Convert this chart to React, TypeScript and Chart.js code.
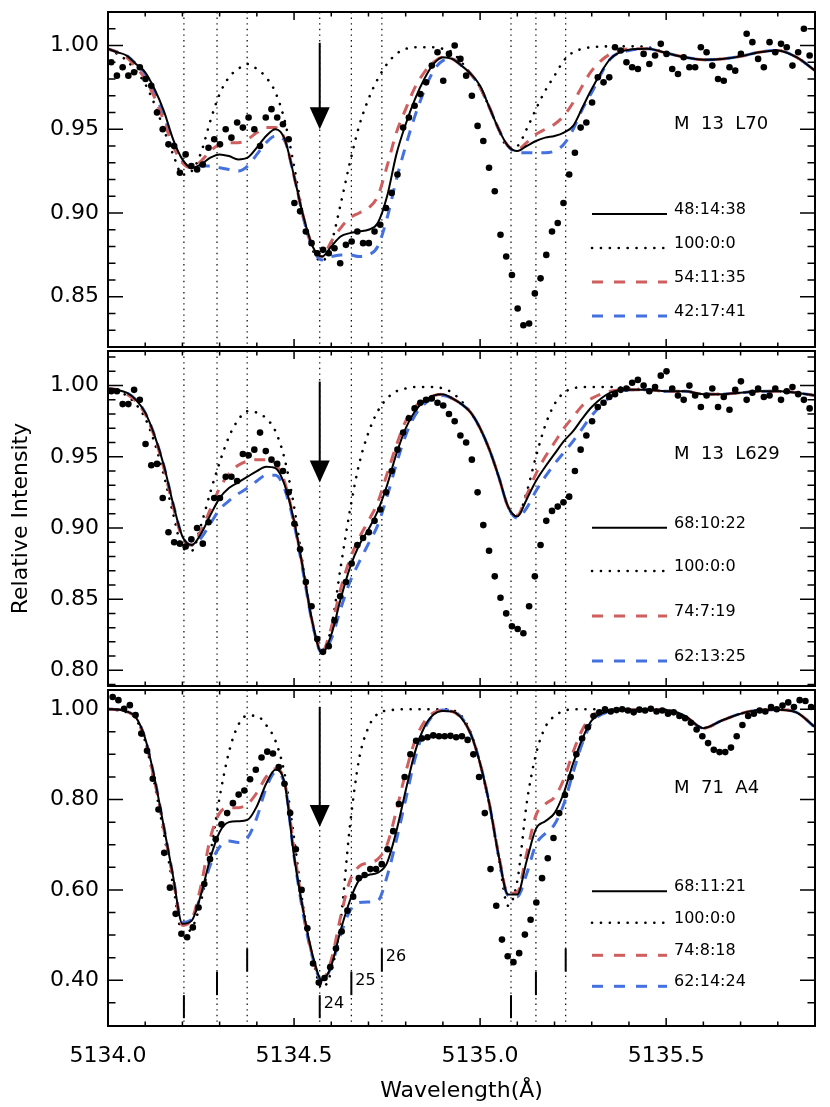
import React, { useEffect, useRef } from 'react';
import { Chart, registerables } from 'chart.js';

Chart.register(...registerables);

// ---------- axes ----------
const WL_MIN = 5134.0;
const WL_MAX = 5135.9;
const X_LABEL_TICKS = [5134.0, 5134.5, 5135.0, 5135.5];

// MgH line positions (vertical dotted lines), Å
const LINE_WL = [5134.204, 5134.293, 5134.374, 5134.569, 5134.654, 5134.736, 5135.083, 5135.150, 5135.230];
const ISOTOPES = ['24', '25', '26'];
const MARKER_LOW = [0.316, 0.367, 0.419];
const MARKER_HIGH = [0.367, 0.419, 0.47];

// ---------- model sampling grid ----------
const MODEL_WL = [
  5134.000, 5134.025, 5134.050, 5134.075, 5134.100, 5134.125, 5134.150, 5134.175, 5134.200, 5134.225,
  5134.250, 5134.275, 5134.300, 5134.325, 5134.350, 5134.375, 5134.400, 5134.425, 5134.450, 5134.475,
  5134.500, 5134.525, 5134.550, 5134.575, 5134.600, 5134.625, 5134.650, 5134.675, 5134.700, 5134.725,
  5134.750, 5134.775, 5134.800, 5134.825, 5134.850, 5134.875, 5134.900, 5134.925, 5134.950, 5134.975,
  5135.000, 5135.025, 5135.050, 5135.075, 5135.100, 5135.125, 5135.150, 5135.175, 5135.200, 5135.225,
  5135.250, 5135.275, 5135.300, 5135.350, 5135.400, 5135.450, 5135.500, 5135.550, 5135.600, 5135.650,
  5135.700, 5135.750, 5135.800, 5135.850, 5135.900,
];

// ---------- Panel 1: M 13 L70 ----------
const P1_SOLID = [0.998, 0.996, 0.994, 0.989, 0.984, 0.974, 0.961, 0.944, 0.932, 0.927, 0.929, 0.933, 0.935, 0.934, 0.932, 0.933, 0.939, 0.946, 0.950, 0.944, 0.922, 0.898, 0.880, 0.874, 0.880, 0.886, 0.888, 0.889, 0.890, 0.894, 0.910, 0.935, 0.953, 0.968, 0.980, 0.989, 0.993, 0.992, 0.988, 0.983, 0.976, 0.963, 0.950, 0.940, 0.937, 0.940, 0.943, 0.945, 0.946, 0.948, 0.952, 0.963, 0.974, 0.992, 0.9975, 0.998, 0.9955, 0.993, 0.9915, 0.992, 0.9935, 0.996, 0.997, 0.993, 0.985];
const P1_DOTTED = [0.997, 0.995, 0.991, 0.985, 0.977, 0.965, 0.950, 0.935, 0.923, 0.925, 0.936, 0.955, 0.971, 0.981, 0.986, 0.989, 0.986, 0.981, 0.972, 0.955, 0.928, 0.898, 0.878, 0.871, 0.882, 0.905, 0.930, 0.952, 0.968, 0.980, 0.989, 0.995, 0.998, 0.999, 0.999, 0.999, 0.998, 0.996, 0.990, 0.983, 0.975, 0.963, 0.950, 0.939, 0.940, 0.950, 0.962, 0.973, 0.982, 0.991, 0.996, 0.998, 0.999, 0.9995, 0.9995, 0.999, 0.9955, 0.993, 0.9915, 0.992, 0.9935, 0.996, 0.997, 0.993, 0.985];
const P1_RED = [0.998, 0.996, 0.993, 0.987, 0.980, 0.969, 0.955, 0.940, 0.930, 0.927, 0.931, 0.937, 0.941, 0.942, 0.942, 0.944, 0.948, 0.951, 0.951, 0.944, 0.922, 0.898, 0.880, 0.874, 0.883, 0.891, 0.897, 0.900, 0.903, 0.910, 0.928, 0.948, 0.962, 0.975, 0.984, 0.990, 0.993, 0.992, 0.988, 0.983, 0.975, 0.963, 0.950, 0.940, 0.938, 0.942, 0.947, 0.950, 0.953, 0.958, 0.966, 0.976, 0.985, 0.995, 0.998, 0.998, 0.9955, 0.993, 0.9915, 0.992, 0.9935, 0.996, 0.997, 0.993, 0.985];
const P1_BLUE = [0.998, 0.996, 0.994, 0.989, 0.983, 0.972, 0.958, 0.942, 0.931, 0.927, 0.928, 0.928, 0.927, 0.926, 0.925, 0.928, 0.935, 0.942, 0.946, 0.943, 0.922, 0.897, 0.879, 0.872, 0.874, 0.875, 0.875, 0.874, 0.875, 0.880, 0.897, 0.920, 0.940, 0.958, 0.973, 0.985, 0.991, 0.992, 0.988, 0.983, 0.975, 0.963, 0.950, 0.940, 0.936, 0.936, 0.936, 0.936, 0.937, 0.941, 0.950, 0.962, 0.972, 0.992, 0.997, 0.998, 0.9955, 0.993, 0.9915, 0.992, 0.9935, 0.996, 0.997, 0.993, 0.985];
const P1_OBS = [
  0.990, 0.982, 0.987, 0.982, 0.984, 0.987, 0.980, 0.976, 0.960, 0.950,
  0.941, 0.940, 0.924, 0.935, 0.928, 0.926, 0.929, 0.939, 0.944, 0.941,
  0.950, 0.945, 0.954, 0.951, 0.957, 0.950, 0.940, 0.957, 0.962, 0.957,
  0.953, 0.944, 0.906, 0.901, 0.889, 0.882, 0.876, 0.878, 0.876, 0.879,
  0.870, 0.881, 0.883, 0.889, 0.882, 0.882, 0.889, 0.893, 0.903, 0.912,
  0.923, 0.951, 0.957, 0.964, 0.971, 0.978, 0.988, 0.996, 0.979, 0.995,
  1.000, 0.992, 0.982, 0.970, 0.952, 0.943, 0.927, 0.913, 0.887, 0.874,
  0.863, 0.843, 0.833, 0.834, 0.852, 0.861, 0.875, 0.889, 0.894, 0.906,
  0.923, 0.936, 0.951, 0.954, 0.966, 0.981, 0.978, 0.981, 0.999, 0.997,
  0.990, 0.987, 0.986, 0.995, 0.989, 0.994, 1.001, 0.995, 0.986, 0.983,
  0.993, 0.987, 0.987, 0.999, 0.996, 0.988, 0.980, 0.979, 0.987, 0.985,
  0.995, 1.007, 1.002, 0.992, 0.987, 1.002, 0.996, 1.001, 0.999, 0.988,
  0.996, 1.010, 0.994,
];

// ---------- Panel 2: M 13 L629 ----------
const P2_SOLID = [0.998, 0.997, 0.995, 0.990, 0.981, 0.965, 0.944, 0.917, 0.894, 0.888, 0.896, 0.909, 0.921, 0.928, 0.932, 0.936, 0.940, 0.943, 0.942, 0.930, 0.905, 0.870, 0.833, 0.812, 0.825, 0.850, 0.872, 0.888, 0.899, 0.912, 0.930, 0.952, 0.970, 0.982, 0.989, 0.993, 0.994, 0.991, 0.987, 0.981, 0.970, 0.955, 0.936, 0.915, 0.908, 0.920, 0.933, 0.943, 0.952, 0.961, 0.968, 0.977, 0.985, 0.995, 0.997, 0.997, 0.996, 0.996, 0.994, 0.994, 0.995, 0.996, 0.996, 0.995, 0.993];
const P2_DOTTED = [0.998, 0.996, 0.993, 0.987, 0.977, 0.960, 0.937, 0.910, 0.886, 0.884, 0.902, 0.925, 0.946, 0.964, 0.976, 0.982, 0.981, 0.977, 0.968, 0.948, 0.915, 0.872, 0.832, 0.812, 0.830, 0.872, 0.912, 0.945, 0.967, 0.982, 0.991, 0.996, 0.998, 0.999, 0.999, 0.999, 0.998, 0.995, 0.989, 0.981, 0.970, 0.955, 0.936, 0.915, 0.908, 0.925, 0.950, 0.972, 0.987, 0.995, 0.998, 0.999, 0.999, 0.999, 0.998, 0.997, 0.996, 0.996, 0.994, 0.994, 0.995, 0.996, 0.996, 0.995, 0.993];
const P2_RED = [0.998, 0.997, 0.994, 0.989, 0.980, 0.964, 0.942, 0.915, 0.893, 0.888, 0.898, 0.913, 0.928, 0.938, 0.944, 0.947, 0.948, 0.948, 0.945, 0.932, 0.905, 0.870, 0.833, 0.813, 0.830, 0.857, 0.878, 0.893, 0.905, 0.918, 0.938, 0.958, 0.975, 0.985, 0.990, 0.993, 0.994, 0.991, 0.987, 0.981, 0.970, 0.955, 0.936, 0.915, 0.909, 0.923, 0.938, 0.950, 0.960, 0.970, 0.978, 0.986, 0.991, 0.996, 0.997, 0.997, 0.996, 0.996, 0.994, 0.994, 0.995, 0.996, 0.996, 0.995, 0.993];
const P2_BLUE = [0.998, 0.997, 0.995, 0.990, 0.981, 0.965, 0.944, 0.917, 0.894, 0.888, 0.893, 0.903, 0.913, 0.919, 0.924, 0.928, 0.933, 0.937, 0.937, 0.927, 0.903, 0.868, 0.832, 0.812, 0.822, 0.843, 0.862, 0.876, 0.889, 0.902, 0.922, 0.945, 0.965, 0.979, 0.987, 0.991, 0.993, 0.991, 0.987, 0.981, 0.970, 0.955, 0.936, 0.915, 0.907, 0.914, 0.926, 0.936, 0.945, 0.953, 0.961, 0.970, 0.979, 0.992, 0.997, 0.997, 0.996, 0.996, 0.994, 0.994, 0.995, 0.996, 0.996, 0.995, 0.993];
const P2_OBS = [
  0.996, 0.996, 0.987, 0.987, 0.997, 0.990, 0.959, 0.944, 0.945, 0.921,
  0.897, 0.890, 0.889, 0.887, 0.892, 0.900, 0.889, 0.904, 0.921, 0.921,
  0.936, 0.936, 0.933, 0.952, 0.951, 0.955, 0.967, 0.954, 0.948, 0.945,
  0.940, 0.925, 0.903, 0.885, 0.862, 0.845, 0.822, 0.813, 0.817, 0.835,
  0.852, 0.862, 0.875, 0.888, 0.893, 0.897, 0.905, 0.913, 0.925, 0.940,
  0.955, 0.967, 0.977, 0.984, 0.988, 0.990, 0.991, 0.988, 0.986, 0.980,
  0.975, 0.965, 0.960, 0.948, 0.925, 0.902, 0.884, 0.866, 0.851, 0.840,
  0.831, 0.829, 0.826, 0.845, 0.866, 0.888, 0.905, 0.912, 0.915, 0.918,
  0.922, 0.940, 0.955, 0.965, 0.975, 0.985, 0.988, 0.992, 0.994, 0.997,
  0.998, 1.002, 1.004, 1.000, 0.996, 0.999, 1.007, 1.010, 0.998, 0.993,
  0.990, 1.000, 0.993, 0.985, 0.993, 0.998, 0.985, 0.992, 0.983, 0.997,
  1.003, 0.990, 0.995, 0.998, 0.992, 0.993, 0.998, 0.990, 0.996, 0.999,
  0.994, 0.990, 0.984,
];

// ---------- Panel 3: M 71 A4 ----------
const P3_SOLID = [1.000, 0.999, 0.995, 0.982, 0.935, 0.848, 0.740, 0.630, 0.525, 0.532, 0.590, 0.670, 0.728, 0.750, 0.752, 0.755, 0.785, 0.835, 0.866, 0.835, 0.675, 0.553, 0.455, 0.400, 0.432, 0.510, 0.576, 0.622, 0.633, 0.638, 0.660, 0.730, 0.820, 0.905, 0.960, 0.988, 0.996, 0.995, 0.980, 0.945, 0.880, 0.790, 0.675, 0.590, 0.590, 0.664, 0.735, 0.752, 0.770, 0.815, 0.880, 0.935, 0.975, 0.996, 0.999, 0.999, 0.998, 0.985, 0.958, 0.975, 0.990, 0.998, 0.999, 0.993, 0.960];
const P3_DOTTED = [1.000, 0.998, 0.993, 0.978, 0.928, 0.835, 0.725, 0.610, 0.505, 0.515, 0.575, 0.680, 0.805, 0.905, 0.965, 0.986, 0.985, 0.965, 0.930, 0.855, 0.715, 0.560, 0.450, 0.383, 0.420, 0.530, 0.740, 0.890, 0.960, 0.990, 0.997, 0.999, 1.000, 1.000, 1.000, 1.000, 1.000, 0.998, 0.985, 0.948, 0.880, 0.785, 0.670, 0.565, 0.620, 0.790, 0.900, 0.960, 0.985, 0.996, 1.000, 1.000, 1.000, 1.000, 0.999, 0.999, 0.998, 0.985, 0.958, 0.975, 0.990, 0.998, 0.999, 0.993, 0.960];
const P3_RED = [1.000, 0.999, 0.995, 0.980, 0.930, 0.842, 0.735, 0.625, 0.522, 0.535, 0.610, 0.715, 0.770, 0.782, 0.782, 0.790, 0.815, 0.850, 0.868, 0.838, 0.690, 0.553, 0.452, 0.400, 0.445, 0.540, 0.620, 0.652, 0.660, 0.668, 0.700, 0.775, 0.860, 0.930, 0.972, 0.992, 0.997, 0.995, 0.980, 0.945, 0.880, 0.790, 0.678, 0.592, 0.595, 0.680, 0.765, 0.790, 0.805, 0.845, 0.905, 0.955, 0.985, 0.997, 0.999, 0.999, 0.998, 0.985, 0.958, 0.975, 0.990, 0.998, 0.999, 0.993, 0.960];
const P3_BLUE = [1.000, 0.999, 0.995, 0.982, 0.935, 0.848, 0.740, 0.630, 0.528, 0.535, 0.590, 0.655, 0.695, 0.708, 0.705, 0.715, 0.760, 0.825, 0.860, 0.833, 0.675, 0.545, 0.450, 0.398, 0.430, 0.500, 0.553, 0.572, 0.573, 0.576, 0.630, 0.710, 0.800, 0.890, 0.955, 0.988, 0.998, 0.996, 0.982, 0.945, 0.880, 0.790, 0.675, 0.588, 0.585, 0.635, 0.700, 0.725, 0.745, 0.790, 0.860, 0.925, 0.970, 0.995, 0.999, 0.999, 0.998, 0.985, 0.958, 0.975, 0.990, 0.998, 0.999, 0.993, 0.960];
const P3_OBS = [
  1.027, 1.020, 1.001, 1.009, 0.987, 0.946, 0.908, 0.846, 0.778, 0.682,
  0.605, 0.547, 0.503, 0.495, 0.517, 0.561, 0.613, 0.668, 0.712, 0.745,
  0.770, 0.792, 0.811, 0.820, 0.845, 0.866, 0.893, 0.906, 0.902, 0.872,
  0.835, 0.770, 0.690, 0.600, 0.515, 0.437, 0.395, 0.405, 0.429, 0.470,
  0.508, 0.554, 0.585, 0.626, 0.633, 0.646, 0.646, 0.657, 0.690, 0.730,
  0.790, 0.850, 0.900, 0.930, 0.935, 0.938, 0.942, 0.940, 0.940, 0.941,
  0.938, 0.940, 0.932, 0.900, 0.850, 0.770, 0.646, 0.565, 0.490, 0.453,
  0.440, 0.460, 0.501, 0.534, 0.572, 0.626, 0.670, 0.715, 0.770, 0.810,
  0.850, 0.900, 0.935, 0.960, 0.985, 0.993, 1.000, 0.995, 0.998, 1.000,
  0.997, 0.993, 0.999, 0.997, 1.001, 0.995, 0.997, 0.990, 0.993, 0.985,
  0.980, 0.970, 0.955, 0.940, 0.925, 0.910, 0.905, 0.905, 0.915, 0.940,
  0.965, 0.985, 0.990, 0.997, 0.995, 1.005, 1.000, 1.008, 1.015, 1.005,
  1.020, 1.018, 1.005,
];

// observed spectrum sampling (Å)
const OBS_STEP = 0.015385;
const P1_OBS_START = 5134.0086;
const P2_OBS_START = 5134.0086;
const P3_OBS_START = 5134.0126;

const P1_LEGEND = ['48:14:38', '100:0:0', '54:11:35', '42:17:41'];
const P2_LEGEND = ['68:10:22', '100:0:0', '74:7:19', '62:13:25'];
const P3_LEGEND = ['68:11:21', '100:0:0', '74:8:18', '62:14:24'];

// ---------- styles ----------
const FONT = 'DejaVu Sans';
const RED = '#cf5f5f';
const BLUE = '#4470e0';
const STYLES = [
  { color: '#000', width: 2, dash: [] as number[], cap: 'butt' },
  { color: '#000', width: 2.6, dash: [0.1, 8.8], cap: 'round' },
  { color: RED, width: 3, dash: [11, 9], cap: 'butt' },
  { color: BLUE, width: 3, dash: [11, 9], cap: 'butt' },
];
const LEGEND_STYLES = [
  STYLES[0], STYLES[1],
  { ...STYLES[2], dash: [11, 11] },
  { ...STYLES[3], dash: [11, 11] },
];

type PanelCfg = {
  yMin: number; yMax: number; yMajor: number[]; yMinor: number;
  solid: number[]; dotted: number[]; red: number[]; blue: number[];
  obs: number[]; obsStart: number;
  legend: string[]; legendRows: number[]; label: string; labelRow: number;
  arrow: [number, number];
  markers: boolean; showX: boolean; showYTitle: boolean;
  top: number; height: number; padTop: number; padBottom: number; xAxisH: number;
};

const PANELS: PanelCfg[] = [
  {
    yMin: 0.82, yMax: 1.02, yMajor: [0.85, 0.9, 0.95, 1.0], yMinor: 0.01,
    solid: P1_SOLID, dotted: P1_DOTTED, red: P1_RED, blue: P1_BLUE,
    obs: P1_OBS, obsStart: P1_OBS_START,
    legend: P1_LEGEND, legendRows: [202, 236, 270, 304], label: 'M  13  L70', labelRow: 112,
    arrow: [1.0016, 0.95],
    markers: false, showX: false, showYTitle: false,
    top: 0, height: 351, padTop: 12, padBottom: 2, xAxisH: 0,
  },
  {
    yMin: 0.789, yMax: 1.0243, yMajor: [0.8, 0.85, 0.9, 0.95, 1.0], yMinor: 0.01,
    solid: P2_SOLID, dotted: P2_DOTTED, red: P2_RED, blue: P2_BLUE,
    obs: P2_OBS, obsStart: P2_OBS_START,
    legend: P2_LEGEND, legendRows: [176.7, 220, 265, 310], label: 'M  13  L629', labelRow: 103,
    arrow: [1.0028, 0.932],
    markers: false, showX: false, showYTitle: true,
    top: 347, height: 343, padTop: 2, padBottom: 2, xAxisH: 0,
  },
  {
    yMin: 0.2987, yMax: 1.0425, yMajor: [0.4, 0.6, 0.8, 1.0], yMinor: 0.05,
    solid: P3_SOLID, dotted: P3_DOTTED, red: P3_RED, blue: P3_BLUE,
    obs: P3_OBS, obsStart: P3_OBS_START,
    legend: P3_LEGEND, legendRows: [201.3, 232.7, 265.3, 296.3], label: 'M  71  A4', labelRow: 98,
    arrow: [1.005, 0.739],
    markers: true, showX: true, showYTitle: false,
    top: 686, height: 421, padTop: 2, padBottom: 0, xAxisH: 81,
  },
];

function applyStyle(ctx: CanvasRenderingContext2D, s: any) {
  ctx.strokeStyle = s.color;
  ctx.lineWidth = s.width;
  ctx.setLineDash(s.dash);
  ctx.lineCap = s.cap;
}

function makeDecor(p: PanelCfg) {
  return {
    id: 'decor',
    beforeDatasetsDraw(chart: any) {
      const { ctx, chartArea: a, scales } = chart;
      const x = scales.x;
      ctx.save();
      ctx.beginPath();
      ctx.rect(a.left, a.top, a.right - a.left, a.bottom - a.top);
      ctx.clip();
      ctx.strokeStyle = '#000';
      ctx.lineWidth = 1.2;
      ctx.setLineDash([1.4, 4.2]);
      for (const w of LINE_WL) {
        const px = x.getPixelForValue(w);
        ctx.beginPath();
        ctx.moveTo(px, a.top);
        ctx.lineTo(px, a.bottom);
        ctx.stroke();
      }
      ctx.restore();
    },
    afterDatasetsDraw(chart: any) {
      const { ctx, chartArea: a, scales } = chart;
      const x = scales.x;
      const y = scales.y;
      ctx.save();
      ctx.setLineDash([]);
      ctx.strokeStyle = '#000';
      ctx.fillStyle = '#000';

      // isotope markers
      if (p.markers) {
        ctx.lineWidth = 2;
        ctx.font = `16px "${FONT}"`;
        ctx.textBaseline = 'middle';
        ctx.textAlign = 'left';
        LINE_WL.forEach((w, i) => {
          const k = i % 3;
          const px = x.getPixelForValue(w);
          const y0 = y.getPixelForValue(MARKER_LOW[k]);
          const y1 = y.getPixelForValue(MARKER_HIGH[k]);
          ctx.beginPath();
          ctx.moveTo(px, y0);
          ctx.lineTo(px, y1);
          ctx.stroke();
          if (i >= 3 && i < 6) {
            ctx.fillText(ISOTOPES[k], px + 4, (y0 + y1) / 2 - 3);
          }
        });
      }

      // arrow
      {
        const px = x.getPixelForValue(LINE_WL[3]);
        const yt = y.getPixelForValue(p.arrow[0]);
        const yp = y.getPixelForValue(p.arrow[1]);
        const headH = 22;
        ctx.lineWidth = 2;
        ctx.beginPath();
        ctx.moveTo(px, yt);
        ctx.lineTo(px, yp - headH + 2);
        ctx.stroke();
        ctx.beginPath();
        ctx.moveTo(px - 10, yp - headH);
        ctx.lineTo(px + 10, yp - headH);
        ctx.lineTo(px, yp);
        ctx.closePath();
        ctx.fill();
      }

      // legend
      ctx.font = `16px "${FONT}"`;
      ctx.textBaseline = 'middle';
      ctx.textAlign = 'left';
      p.legendRows.forEach((r, i) => {
        const yy = a.top + r;
        ctx.save();
        applyStyle(ctx, LEGEND_STYLES[i]);
        ctx.beginPath();
        ctx.moveTo(592, yy);
        ctx.lineTo(667, yy);
        ctx.stroke();
        ctx.restore();
        ctx.fillText(p.legend[i], 674, yy - 4);
      });

      // panel label
      ctx.font = `18px "${FONT}"`;
      ctx.fillText(p.label, 674, a.top + p.labelRow);

      // frame
      ctx.setLineDash([]);
      ctx.lineCap = 'butt';
      ctx.lineWidth = 2;
      ctx.strokeRect(a.left, a.top, a.right - a.left, a.bottom - a.top);

      // x ticks (inward, top and bottom)
      ctx.lineWidth = 1.5;
      const nx = Math.round((WL_MAX - WL_MIN) / 0.1);
      for (let k = 1; k < nx; k++) {
        const px = x.getPixelForValue(WL_MIN + k * 0.1);
        const len = k % 5 === 0 ? 8 : 4.5;
        ctx.beginPath();
        ctx.moveTo(px, a.bottom);
        ctx.lineTo(px, a.bottom - len);
        ctx.moveTo(px, a.top);
        ctx.lineTo(px, a.top + len);
        ctx.stroke();
      }
      // y ticks (inward, left and right)
      const k0 = Math.ceil(p.yMin / p.yMinor - 1e-6);
      const k1 = Math.floor(p.yMax / p.yMinor + 1e-6);
      for (let k = k0; k <= k1; k++) {
        const v = k * p.yMinor;
        const py = y.getPixelForValue(v);
        if (py <= a.top + 1 || py >= a.bottom - 1) continue;
        const major = p.yMajor.some((m) => Math.abs(m - v) < 1e-6);
        const len = major ? 15 : 7.5;
        ctx.beginPath();
        ctx.moveTo(a.left, py);
        ctx.lineTo(a.left + len, py);
        ctx.moveTo(a.right, py);
        ctx.lineTo(a.right - len, py);
        ctx.stroke();
      }
      ctx.restore();
    },
  };
}

function PanelChart({ p }: { p: PanelCfg }) {
  const ref = useRef<HTMLCanvasElement | null>(null);
  useEffect(() => {
    const canvas = ref.current;
    if (!canvas) return;
    const curve = (vals: number[], s: any, order: number) => ({
      data: MODEL_WL.map((w, i) => ({ x: w, y: vals[i] })),
      borderColor: s.color,
      borderWidth: s.width,
      borderDash: s.dash,
      borderCapStyle: s.cap,
      pointRadius: 0,
      fill: false,
      cubicInterpolationMode: 'monotone',
      order,
    });
    const datasets: any[] = [
      {
        data: p.obs.map((v, i) => ({ x: p.obsStart + i * OBS_STEP, y: v })),
        showLine: false,
        pointRadius: 3.3,
        pointBackgroundColor: '#000',
        pointBorderWidth: 0,
        pointBorderColor: '#000',
        order: 0,
      },
      curve(p.solid, STYLES[0], 1),
      curve(p.red, STYLES[2], 2),
      curve(p.blue, STYLES[3], 3),
      curve(p.dotted, STYLES[1], 4),
    ];
    const font = { family: FONT, size: 22 };
    const zeroPad = (s: any) => {
      s.paddingTop = 0;
      s.paddingBottom = 0;
      s.paddingLeft = 0;
      s.paddingRight = 0;
    };
    const chart = new Chart(canvas, {
      type: 'line',
      data: { datasets },
      options: {
        animation: false,
        responsive: false,
        devicePixelRatio: 1,
        events: [],
        layout: { padding: { left: 0, right: 15, top: p.padTop, bottom: p.padBottom } },
        plugins: { legend: { display: false }, tooltip: { enabled: false } },
        scales: {
          x: {
            type: 'linear',
            min: WL_MIN,
            max: WL_MAX,
            grid: { display: false, drawTicks: false },
            border: { display: false },
            ticks: {
              display: p.showX,
              font,
              color: '#000',
              padding: 17,
              autoSkip: false,
              maxRotation: 0,
              callback: (v: any) => Number(v).toFixed(1),
            },
            afterBuildTicks: (s: any) => {
              s.ticks = X_LABEL_TICKS.map((v) => ({ value: v }));
            },
            afterFit: (s: any) => {
              s.height = p.xAxisH;
              zeroPad(s);
            },
            title: {
              display: p.showX,
              text: 'Wavelength(Å)',
              font,
              color: '#000',
              padding: { top: 0, bottom: 3 },
            },
          },
          y: {
            type: 'linear',
            min: p.yMin,
            max: p.yMax,
            grid: { display: false, drawTicks: false },
            border: { display: false },
            ticks: {
              font,
              color: '#000',
              padding: 9,
              autoSkip: false,
              callback: (v: any) => Number(v).toFixed(2),
            },
            afterBuildTicks: (s: any) => {
              s.ticks = p.yMajor.map((v) => ({ value: v }));
            },
            afterFit: (s: any) => {
              s.width = 108;
              zeroPad(s);
            },
            title: {
              display: p.showYTitle,
              text: 'Relative Intensity',
              font,
              color: '#000',
              padding: { top: 8, bottom: 0 },
            },
          },
        },
      } as any,
      plugins: [makeDecor(p)],
    });
    return () => chart.destroy();
  }, [p]);
  return (
    <canvas
      ref={ref}
      width={830}
      height={p.height}
      style={{ position: 'absolute', left: 0, top: p.top, width: 830, height: p.height }}
    />
  );
}

export default function App() {
  return (
    <div style={{ position: 'absolute', left: 0, top: 0, width: 830, height: 1107, background: '#fff' }}>
      {PANELS.map((p, i) => (
        <PanelChart key={i} p={p} />
      ))}
    </div>
  );
}
